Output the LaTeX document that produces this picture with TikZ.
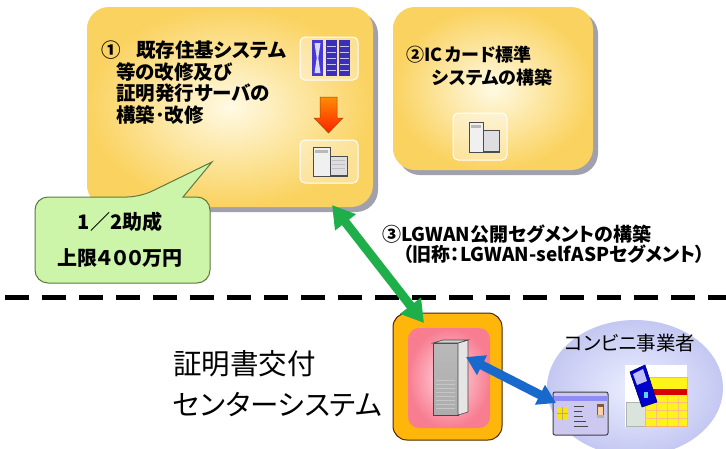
\documentclass[tikz,border=0pt]{standalone}
\usepackage{fontspec}
\newfontfamily\jp[RawFeature=+palt]{Noto Sans CJK JP}
\usetikzlibrary{arrows.meta,shadows,shapes.geometric,calc}

\definecolor{boxout}{RGB}{250,210,95}
\definecolor{boxin}{RGB}{255,250,228}
\definecolor{boxshadow}{RGB}{145,145,160}
\definecolor{calloutfill}{RGB}{205,245,170}
\definecolor{calloutdraw}{RGB}{95,120,60}
\definecolor{arrowgreen}{RGB}{30,175,75}
\definecolor{arrowblue}{RGB}{25,105,205}
\definecolor{srvorange}{RGB}{255,182,10}
\definecolor{srvpink}{RGB}{248,125,145}
\definecolor{srvpinkin}{RGB}{255,220,228}
\definecolor{ellout}{RGB}{196,200,242}
\definecolor{ellin}{RGB}{236,238,255}
\definecolor{rackblue}{RGB}{70,55,215}
\definecolor{cardfill}{RGB}{205,200,240}

\tikzset{
  stagebox/.style={rounded corners=22pt, inner sep=0pt, draw=none,
    inner color=boxin, outer color=boxout,
    drop shadow={shadow xshift=5pt, shadow yshift=-5pt, fill=boxshadow, opacity=0.85}},
  iconframe/.style={rounded corners=5pt, draw=white, line width=1pt,
    fill=white, fill opacity=0.35, inner sep=0pt},
  headbold/.style={font={\jp\bfseries\fontsize{19.5}{22}\selectfont}, anchor=base west, inner sep=0pt},
  subbold/.style={font={\jp\bfseries\fontsize{18}{22}\selectfont}, anchor=base west, inner sep=0pt},
  notebold/.style={font={\jp\bfseries\fontsize{20}{24}\selectfont}, inner sep=0pt},
  segbold/.style={font={\jp\bfseries\fontsize{19}{21}\selectfont}, anchor=base west, inner sep=0pt},
  bigtext/.style={font={\jp\fontsize{28.5}{32}\selectfont}, anchor=base west, inner sep=0pt},
  shoptext/.style={font={\jp\fontsize{19.5}{22}\selectfont}, inner sep=0pt},
  linkarrow/.style={line width=9pt, draw=arrowgreen,
    arrows={Triangle[width=25pt,length=22pt]-Triangle[width=25pt,length=22pt]}},
  lanarrow/.style={line width=9pt, draw=arrowblue,
    arrows={Triangle[width=21pt,length=18pt]-Triangle[width=21pt,length=18pt]}},
  pcbody/.style={fill=gray!12, draw=gray!60!black, line width=0.8pt},
  pcside/.style={fill=blue!8!gray!25, draw=gray!60!black, line width=0.8pt},
}

\begin{document}
\begin{tikzpicture}[x=1pt,y=-1pt]
\path[use as bounding box, fill=white] (0,0) rectangle (726,448);

% ---- upper stage boxes ----
\node[stagebox, minimum width=286pt, minimum height=200pt] (stage1) at (230,107) {};
\node[stagebox, minimum width=200pt, minimum height=163pt] (stage2) at (493,88.5) {};

% ---- box 1 text ----
\node[headbold] (s1num) at (101,57.5) {①};
\node[headbold] (s1a) at (136,57.5) {既存住基システム};
\node[headbold] (s1b) at (116,79.5) {等の改修及び};
\node[headbold] (s1c) at (116,100.5) {証明発行サーバの};
\node[headbold] (s1d) at (116,122.5) {構築･改修};

% ---- box 1 icons ----
\node[iconframe, minimum width=58pt, minimum height=43pt] (rackframe) at (329,58.5) {};
\fill[rackblue] (312,40) rectangle (323,76);
\fill[rackblue!85!black] (326,40) rectangle (337,76);
\fill[rackblue!85!black] (339,40) rectangle (350,76);
\foreach \yy in {46,52,58,64,70}{
  \draw[white!70!rackblue, line width=0.6pt] (327,\yy) -- (336,\yy);
  \draw[white!70!rackblue, line width=0.6pt] (340,\yy) -- (349,\yy);
}
\fill[white!85!blue] (314.5,43) -- (320.5,43) -- (318.3,58) -- (320.5,73) -- (314.5,73) -- (316.7,58) -- cycle;

% orange down arrow between the two servers
\shade[top color=orange!90!yellow, bottom color=red!75!orange, draw=orange!60!black, line width=0.5pt]
  (320,97) -- (337,97) -- (337,118) -- (343,118) -- (328.5,133) -- (314,118) -- (320,118) -- cycle;

\node[iconframe, minimum width=58pt, minimum height=43pt] (pcframe1) at (329,161.5) {};
\draw[pcbody] (313,147) rectangle (330,176);
\fill[gray!55] (315,150) rectangle (328,153);
\draw[pcside] (330,156) rectangle (347,175);
\draw[gray!60!black, line width=1.2pt] (330,176) -- (348,176);
\foreach \yy in {160,164,168}{\draw[gray!50, line width=0.5pt] (332,\yy) -- (345,\yy);}

% ---- box 2 ----
\node[subbold] (s2a) at (406,61.5) {②IC\,カード標準};
\node[subbold] (s2b) at (432,84.5) {システムの構築};
\node[iconframe, minimum width=54pt, minimum height=47pt] (pcframe2) at (480,136.5) {};
\draw[pcbody] (469,122) rectangle (483,152);
\fill[gray!55] (471,125) rectangle (481,128);
\draw[pcside] (483,130) rectangle (499,151);
\draw[gray!60!black, line width=1.2pt] (483,152) -- (500,152);

% ---- subsidy callout ----
\draw[fill=calloutfill, draw=calloutdraw, line width=1pt, rounded corners=13pt]
  (35,240) |- (140,197) [sharp corners] -- (212,162) -- (183,197)
  [rounded corners=13pt] -| (210,283) -| (35,240) -- cycle;
\node[notebold] (subA) at (120,222) {1／2助成};
\node[notebold] (subB) at (120,258) {上限４００万円};

% ---- LGWAN segment label ----
\node[segbold] (segA) at (382,241.6) {③LGWAN公開セグメントの構築};
\node[segbold] (segB) at (403,261.6) {（旧称：LGWAN-selfASPセグメント）};

% ---- network boundary ----
\coordinate (sepL) at (0,297.5);
\coordinate (sepR) at (726,297.5);
\draw[line width=5pt, dash pattern=on 24pt off 13pt, dash phase=32pt] (sepL) -- (sepR);

% ---- certificate center ----
\node[bigtext] (ctrA) at (173,374) {証明書交付};
\node[bigtext] (ctrB) at (173,415) {センターシステム};

\node[rounded corners=14pt, fill=srvorange, draw=black!70!orange, line width=1pt,
      minimum width=109pt, minimum height=127pt, inner sep=0pt] (srvbox) at (447.5,376.5) {};
\node[rounded corners=11pt, inner color=srvpinkin, outer color=srvpink,
      minimum width=82pt, minimum height=100pt, inner sep=0pt] (srvpad) at (449,378) {};
% server tower
\shade[top color=gray!55, middle color=white, bottom color=gray!65, draw=gray!55!black, line width=0.6pt]
  (433,343) rectangle (458,415);
\fill[gray!20, draw=gray!55!black, line width=0.6pt] (458,343) -- (468,340) -- (468,412) -- (458,415) -- cycle;
\fill[gray!35, draw=gray!55!black, line width=0.6pt] (433,343) -- (443,340) -- (468,340) -- (458,343) -- cycle;
\foreach \yy in {380,384,388,392,396,400,404,408}{\draw[gray!45, line width=0.4pt] (436,\yy) -- (455,\yy);}
\coordinate (srvport) at (466,357);

% ---- convenience store side ----
\node[ellipse, inner color=ellin, outer color=ellout, minimum width=176pt, minimum height=136pt,
      inner sep=0pt] (shop) at (635,388) {};
\node[shoptext] (shopname) at (630,343) {コンビニ事業者};

% IC card
\node[fill=cardfill, draw=black!75, line width=1pt, rounded corners=2pt,
      minimum width=55pt, minimum height=43pt, inner sep=0pt] (card) at (580.5,413.5) {};
\fill[cardfill!70!blue] (554,396) rectangle (607,401);
\fill[yellow!85!orange] (557,407) rectangle (568,420);
\draw[gray!70!yellow, line width=0.4pt] (557,413.5) -- (568,413.5) (562.5,407) -- (562.5,420);
\fill[brown!70!black] (597,404) rectangle (604,418);
\fill[orange!35!white] (598,407) rectangle (603,415);
\fill[gray!60] (597,415) rectangle (604,418);
\foreach \yy/\ww in {406/10,411/8,416/9,421/12,426/14}{\draw[gray!55!black, line width=1pt] (574,\yy) -- ++(\ww,0);}
\coordinate (cardport) at (556,403);

% multimedia kiosk
\node[fill=white, minimum width=62pt, minimum height=62pt, inner sep=0pt] (kiosk) at (656,396) {};
\fill[green!15!gray!25, draw=gray!60, line width=0.5pt] (626,402) rectangle (655,426);
\fill[yellow!90!white, draw=orange!60, line width=0.5pt] (645,377) rectangle (687,426);
\foreach \yy in {402,410,418}{\draw[orange!50, line width=0.5pt] (645,\yy) -- (687,\yy);}
\foreach \xx in {656,667,678}{\draw[orange!50, line width=0.5pt] (\xx,398) -- (\xx,426);}
\fill[red!85!black] (650,389) rectangle (687,395);
\fill[blue!80!black, draw=blue!40!black, line width=0.6pt] (630,372) -- (645,365) -- (657,402) -- (642,407) -- cycle;
\fill[blue!25!white] (633,374) -- (643,369) -- (647,381) -- (637,385) -- cycle;
\fill[cyan!60!white] (644,392) rectangle (648,398);

% ---- connections ----
\coordinate (linkTop) at (332,205);
\coordinate (linkBot) at (424,323);
\draw[linkarrow] (linkTop) -- (linkBot);
\draw[lanarrow] (srvport) -- (cardport);
\end{tikzpicture}
\end{document}
